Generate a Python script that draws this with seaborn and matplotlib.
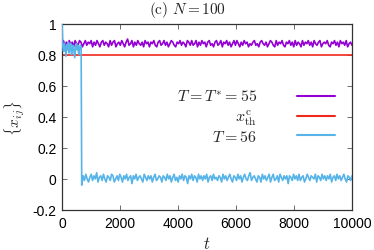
import numpy as np
import pandas as pd
import matplotlib
matplotlib.use("Agg")
import matplotlib.pyplot as plt
import seaborn as sns
from matplotlib.lines import Line2D

# ---------------- data ----------------
purple_vals = [
    0.86,0.89,0.85,0.88,0.87,0.89,0.86,0.88,0.85,0.89,
    0.87,0.86,0.89,0.88,0.85,0.87,0.89,0.86,0.88,0.87,
    0.89,0.85,0.88,0.86,0.89,0.87,0.85,0.88,0.89,0.86,
    0.88,0.87,0.85,0.89,0.86,0.88,0.89,0.85,0.87,0.88,
    0.86,0.89,0.87,0.85,0.88,0.90,0.86,0.87,0.89,0.85,
    0.88,0.86,0.89,0.87,0.86,0.88,0.85,0.89,0.87,0.88,
    0.85,0.88,0.87,0.89,0.86,0.85,0.88,0.89,0.86,0.87,
    0.89,0.86,0.88,0.85,0.87,0.89,0.88,0.86,0.85,0.88,
    0.87,0.89,0.86,0.88,0.87,0.85,0.89,0.88,0.86,0.89,
    0.86,0.87,0.89,0.85,0.88,0.86,0.89,0.87,0.88,0.85,
    0.88,0.89,0.86,0.87,0.85,0.88,0.89,0.86,0.87,0.89,
    0.85,0.88,0.87,0.89,0.86,0.88,0.85,0.87,0.89,0.86,
    0.89,0.87,0.85,0.88,0.86,0.89,0.87,0.88,0.85,0.87,
    0.86,0.88,0.89,0.86,0.87,0.85,0.88,0.89,0.87,0.86,
    0.88,0.85,0.87,0.89,0.88,0.86,0.85,0.89,0.86,0.88,
    0.87,0.89,0.86,0.85,0.88,0.87,0.89,0.86,0.88,0.85,
    0.89,0.86,0.88,0.87,0.85,0.89,0.86,0.88,0.87,0.89,
    0.86,0.88,0.85,0.89,0.87,0.86,0.88,0.89,0.85,0.87,
    0.88,0.87,0.89,0.86,0.85,0.88,0.87,0.89,0.86,0.88,
    0.85,0.89,0.87,0.88,0.86,0.89,0.85,0.87,0.88,0.86,
]
purple_t = np.linspace(0, 10000, len(purple_vals))

threshold_t = [0, 10000]
threshold_vals = [0.8, 0.8]

blue_early_vals = [1.00,0.85,0.82,0.87,0.84,0.79,0.86,0.83,0.88,0.81,
                   0.85,0.87,0.80,0.84,0.86,0.82,0.78,0.85,0.87,0.83,
                   0.86,0.80,0.84,0.86,0.85]
blue_early_t = np.linspace(0, 660, len(blue_early_vals))
blue_late_vals = [
    -0.04,0.02,-0.01,0.03,0.00,-0.02,0.01,0.03,-0.01,0.02,
    0.00,0.04,-0.02,0.01,0.02,-0.01,0.03,0.00,-0.02,0.02,
    0.01,-0.01,0.03,0.02,-0.02,0.00,0.02,-0.01,0.03,0.01,
    -0.02,0.02,0.00,0.03,-0.01,0.01,0.02,-0.03,0.02,0.00,
    0.03,-0.01,0.01,0.02,0.00,-0.02,0.03,0.01,-0.01,0.02,
    0.00,0.02,-0.02,0.01,0.03,-0.01,0.00,0.02,0.01,-0.02,
    0.02,0.01,-0.01,0.03,0.00,0.02,-0.02,0.01,0.03,-0.01,
    0.01,-0.02,0.02,0.00,0.03,-0.01,0.02,0.01,-0.03,0.02,
    0.00,0.03,-0.01,0.02,0.01,-0.02,0.03,0.00,0.02,-0.01,
    0.02,0.00,0.03,-0.02,0.01,0.02,-0.01,0.03,0.00,0.01,
    -0.01,0.02,0.01,-0.02,0.03,0.00,0.02,-0.01,0.01,0.03,
    0.00,-0.02,0.02,0.01,-0.01,0.03,0.00,0.02,-0.02,0.01,
    0.03,0.00,-0.01,0.02,0.04,-0.01,0.01,0.02,0.00,-0.02,
    0.02,0.01,-0.02,0.03,0.00,0.02,-0.01,0.01,0.03,-0.02,
    0.01,0.03,-0.01,0.00,0.02,-0.02,0.03,0.01,-0.01,0.02,
    0.00,0.02,-0.03,0.02,0.01,-0.01,0.03,0.00,0.02,-0.01,
    0.03,-0.01,0.01,0.02,-0.02,0.00,0.03,0.01,-0.01,0.02,
    0.01,0.00,0.03,-0.02,0.02,0.01,-0.01,0.03,0.00,0.02,
    -0.01,0.02,0.00,0.03,-0.02,0.01,0.02,-0.01,0.03,0.00,
    0.02,-0.01,0.01,0.03,0.00,-0.02,0.02,0.01,-0.01,0.02,
]
blue_late_t = np.linspace(680, 10000, len(blue_late_vals))
blue_t = np.concatenate([blue_early_t, blue_late_t])
blue_vals = blue_early_vals + blue_late_vals

labels = [r"$T=T^{*}=55$", r"$x^{\rm c}_{\rm th}$", r"$T=56$"]
colors = ["#9400d3", "#f0281e", "#56b4e9"]
xticks = [0, 2000, 4000, 6000, 8000, 10000]
yticks = [-0.2, 0, 0.2, 0.4, 0.6, 0.8, 1]
ytick_labels = ["-0.2", "0", "0.2", "0.4", "0.6", "0.8", "1"]

# ---------------- style ----------------
sns.set_style("ticks", {"xtick.direction": "in", "ytick.direction": "in"})
plt.rcParams["font.family"] = ["Liberation Sans", "DejaVu Sans"]
plt.rcParams["mathtext.fontset"] = "cm"
plt.rcParams["axes.unicode_minus"] = False

W, H = 374, 251
fig = plt.figure(figsize=(W/100, H/100), dpi=100)
L, R, T, B = 62, 352, 24.5, 211
ax = fig.add_axes([L/W, 1-B/H, (R-L)/W, (B-T)/H])

def ax_xy(px, py):
    return ((px-L)/(R-L), (B-py)/(B-T))

df_p = pd.DataFrame({"t": purple_t, "x": purple_vals})
df_r = pd.DataFrame({"t": threshold_t, "x": threshold_vals})
df_b = pd.DataFrame({"t": blue_t, "x": blue_vals})

sns.lineplot(data=df_p, x="t", y="x", ax=ax, color=colors[0], lw=1.2,
             estimator=None, sort=False, zorder=3)
sns.lineplot(data=df_r, x="t", y="x", ax=ax, color=colors[1], lw=1.2,
             estimator=None, sort=False, zorder=2)
sns.lineplot(data=df_b, x="t", y="x", ax=ax, color=colors[2], lw=1.2,
             estimator=None, sort=False, zorder=4)

ax.set_xlim(0, 10000)
ax.set_ylim(-0.2, 1)
ax.set_xticks(xticks)
ax.set_xticklabels([str(v) for v in xticks])
ax.set_yticks(yticks)
ax.set_yticklabels(ytick_labels)
ax.tick_params(axis="both", which="both", top=True, right=True,
               length=3.5, width=0.6, color="#555555", labelsize=10,
               labelcolor="black", pad=4)
for s in ax.spines.values():
    s.set_color("#333333")
    s.set_linewidth(0.9)

ax.set_xlabel("")
ax.set_ylabel("")
fig.text(207/W, 1-244/H, r"$t$", ha="center", va="center", fontsize=12)
fig.text(15/W, 1-118/H, r"$\{x_{ij}\}$", ha="center", va="center",
         rotation=90, fontsize=11)

fig.text(187/W, 1-10/H, r"$\mathrm{(c)}\ N=100$", ha="center", va="center",
         fontsize=11)

# legend: handle samples via matplotlib legend, labels right-aligned text
handles = [Line2D([], [], color=c, lw=1.5) for c in colors]
leg = ax.legend(handles, ["", "", ""], loc="center left",
                bbox_to_anchor=ax_xy(297, 117.5), frameon=False,
                handlelength=2.75, handletextpad=0, labelspacing=0.38,
                fontsize=10, borderaxespad=0, borderpad=0)
label_y = [97, 118, 138]
for lab, py in zip(labels, label_y):
    x0, y0 = ax_xy(257, py)
    ax.text(x0, y0, lab, transform=ax.transAxes, ha="right", va="center",
            fontsize=11.5)

fig.savefig("out.png", dpi=100)
